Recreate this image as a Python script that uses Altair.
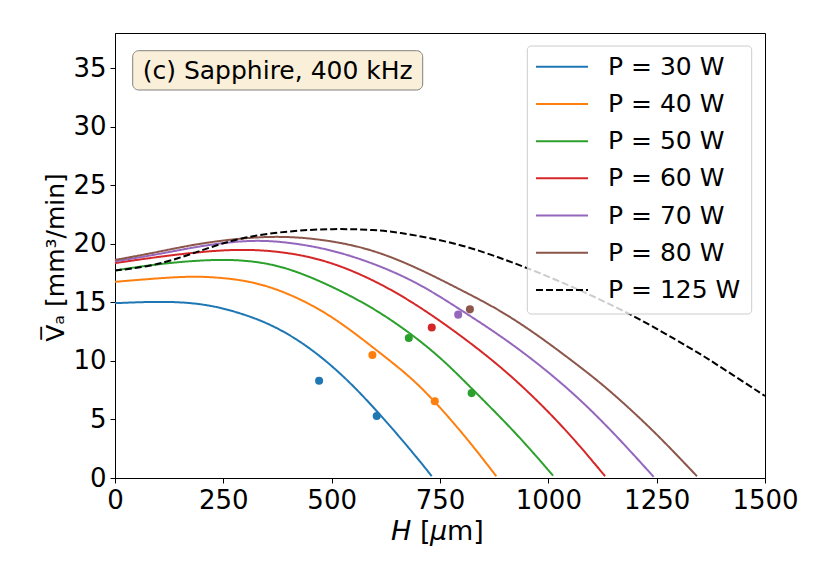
import altair as alt
import pandas as pd

# ---------------- data ----------------
labels = ["P = 30 W", "P = 40 W", "P = 50 W", "P = 60 W", "P = 70 W", "P = 80 W", "P = 125 W"]
colors = ["#1f77b4", "#ff7f0e", "#2ca02c", "#d62728", "#9467bd", "#8c564b", "#000000"]
dashes = [[1, 0], [1, 0], [1, 0], [1, 0], [1, 0], [1, 0], [7, 3]]

h30 = [0, 60, 120, 180, 240, 300, 350, 400, 450, 500, 550, 600, 650, 700, 731]
v30 = [14.93, 15.02, 15.06, 14.95, 14.6, 13.95, 13.25, 12.3, 11.08, 9.6, 7.87, 5.9, 3.8, 1.6, 0.15]

h40 = [0, 80, 175, 250, 320, 400, 500, 604, 680, 738, 811, 880]
v40 = [16.75, 17.0, 17.25, 17.1, 16.75, 15.8, 13.9, 10.9, 8.7, 6.55, 3.45, 0.15]

h50 = [0, 100, 230, 320, 400, 500, 600, 688, 760, 827, 927, 1011]
v50 = [17.72, 18.3, 18.7, 18.55, 17.95, 16.4, 14.45, 12.2, 10.0, 7.5, 3.8, 0.2]

h60 = [0, 100, 273, 400, 500, 604, 704, 812, 900, 981, 1058, 1131]
v60 = [18.35, 18.9, 19.64, 19.3, 18.45, 16.8, 14.64, 11.79, 9.2, 6.4, 3.4, 0.15]

h70 = [0, 100, 200, 311, 400, 500, 604, 704, 796, 888, 981, 1073, 1160, 1243]
v70 = [18.5, 19.1, 19.85, 20.35, 20.15, 19.5, 18.25, 16.58, 14.4, 12.2, 9.65, 6.75, 3.5, 0.1]

h80 = [0, 100, 200, 365, 500, 604, 704, 796, 888, 981, 1073, 1135, 1242, 1343]
v80 = [18.62, 19.3, 20.1, 20.78, 20.3, 19.4, 17.84, 16.1, 14.36, 12.07, 9.5, 7.7, 4.1, 0.15]

h125 = [0, 80, 150, 200, 290, 400, 504, 600, 658, 727, 811, 888, 942, 1050, 1196, 1335, 1373, 1500]
v125 = [17.72, 18.05, 18.8, 19.45, 20.55, 21.1, 21.3, 21.2, 20.95, 20.5, 19.8, 18.8, 18.07, 16.45, 13.93, 10.93, 10.08, 7.0]

pts_label = ["P = 30 W", "P = 30 W", "P = 40 W", "P = 40 W", "P = 50 W", "P = 50 W",
             "P = 60 W", "P = 70 W", "P = 80 W"]
pts_H = [471, 604, 594, 738, 678, 823, 731, 792, 819]
pts_V = [8.3, 5.3, 10.5, 6.55, 11.95, 7.25, 12.85, 13.95, 14.4]

x_ticks = [0, 250, 500, 750, 1000, 1250, 1500]
y_ticks = [0, 5, 10, 15, 20, 25, 30, 35]

annotation = "(c) Sapphire, 400 kHz"

# ---------------- tables ----------------
curves = [(h30, v30), (h40, v40), (h50, v50), (h60, v60), (h70, v70), (h80, v80), (h125, v125)]
rows = []
for lab, (hs, vs) in zip(labels, curves):
    for h, v in zip(hs, vs):
        rows.append({"label": lab, "H": h, "V": v})
df_lines = pd.DataFrame(rows)
df_pts = pd.DataFrame({"label": pts_label, "H": pts_H, "V": pts_V})
df_leg = pd.DataFrame({"label": labels, "row": list(range(len(labels))),
                       "color": colors, "dash": dashes})

FONT = "DejaVu Sans"
FS = 25
TFS = 27

xscale = alt.Scale(domain=[0, 1500], nice=False, zero=False)
yscale = alt.Scale(domain=[0, 38], nice=False, zero=False)
cscale = alt.Scale(domain=labels, range=colors)
dscale = alt.Scale(domain=labels, range=dashes)

x_enc = alt.X("H:Q", scale=xscale,
              axis=alt.Axis(values=x_ticks, title=None, format="d", labelFlush=False,
                            labelOverlap=False))
y_enc = alt.Y("V:Q", scale=yscale,
              axis=alt.Axis(values=y_ticks, title="V\u0305\u2090 [mm\u00b3/min]", labelOverlap=False,
                            titleX=-52, titleY=224, titleBaseline="alphabetic"))

lines = alt.Chart(df_lines).mark_line(strokeWidth=2, interpolate="basis").encode(
    x=x_enc, y=y_enc,
    color=alt.Color("label:N", scale=cscale, legend=None),
    strokeDash=alt.StrokeDash("label:N", scale=dscale, legend=None),
    order=alt.Order("H:Q"),
)

points = alt.Chart(df_pts).mark_circle(size=65, opacity=1).encode(
    x=alt.X("H:Q", scale=xscale),
    y=alt.Y("V:Q", scale=yscale),
    color=alt.Color("label:N", scale=cscale, legend=None),
)

one = pd.DataFrame({"t": [annotation]})
ann_box = alt.Chart(one).mark_rect(fill="#FAEFD9", stroke="#808080", strokeWidth=1,
                                   cornerRadius=6).encode(
    x=alt.value(17.7), x2=alt.value(307.7), y=alt.value(17.7), y2=alt.value(57))
ann_text = alt.Chart(one).mark_text(font=FONT, fontSize=FS, color="black",
                                    align="center", baseline="middle").encode(
    x=alt.value(162.7), y=alt.value(37.5), text="t:N")

xt = pd.DataFrame({"a": ["H"], "b": ["["], "c": ["\u03bc"], "d": ["m]"]})
xt_h = alt.Chart(xt).mark_text(font=FONT, fontSize=TFS, fontStyle="italic", color="black",
                               align="left", baseline="alphabetic").encode(
    x=alt.value(276), y=alt.value(507), text="a:N")
xt_b = alt.Chart(xt).mark_text(font=FONT, fontSize=TFS, color="black",
                               align="left", baseline="alphabetic").encode(
    x=alt.value(305), y=alt.value(507), text="b:N")
xt_mu = alt.Chart(xt).mark_text(font=FONT, fontSize=TFS, fontStyle="italic", color="black",
                                align="left", baseline="alphabetic").encode(
    x=alt.value(315), y=alt.value(507), text="c:N")
xt_m = alt.Chart(xt).mark_text(font=FONT, fontSize=TFS, color="black",
                               align="left", baseline="alphabetic").encode(
    x=alt.value(332), y=alt.value(507), text="d:N")

data_layer = alt.layer(lines, points, ann_box, ann_text, xt_h, xt_b, xt_mu, xt_m)

# manual legend
lscale = alt.Scale(domain=[0, 6], range=[33.7, 257])
leg_box = alt.Chart(one).mark_rect(fill="rgba(255,255,255,0.8)", stroke="#cccccc",
                                   strokeWidth=1, cornerRadius=4).encode(
    x=alt.value(412.3), x2=alt.value(636.7), y=alt.value(13), y2=alt.value(281))
leg_rule = alt.Chart(df_leg).mark_rule(strokeWidth=2).encode(
    x=alt.value(421), x2=alt.value(473),
    y=alt.Y("row:Q", scale=lscale, axis=None),
    color=alt.Color("color:N", scale=None),
    strokeDash=alt.StrokeDash("dash", scale=None),
)
leg_text = alt.Chart(df_leg).mark_text(font=FONT, fontSize=FS, color="black",
                                       align="left", baseline="middle").encode(
    x=alt.value(493),
    y=alt.Y("row:Q", scale=lscale, axis=None),
    text="label:N",
)
legend_layer = alt.layer(leg_box, leg_rule, leg_text)

chart = alt.layer(data_layer, legend_layer).resolve_scale(
    y="independent", color="independent", strokeDash="independent"
).properties(
    width=650, height=445,
    autosize=alt.AutoSizeParams(type="none"),
    padding={"left": 107, "top": 25, "right": 57, "bottom": 95},
).configure_view(
    stroke="black", strokeWidth=1
).configure_axis(
    labelFont=FONT, labelFontSize=26, labelColor="black",
    titleFont=FONT, titleFontSize=FS, titleColor="black", titleFontWeight="normal",
    domainColor="black", domainWidth=1, tickColor="black", tickWidth=1, tickSize=5,
    labelPadding=4, grid=False,
)

chart.save("out.html", embed_options={"renderer": "svg", "actions": False})
